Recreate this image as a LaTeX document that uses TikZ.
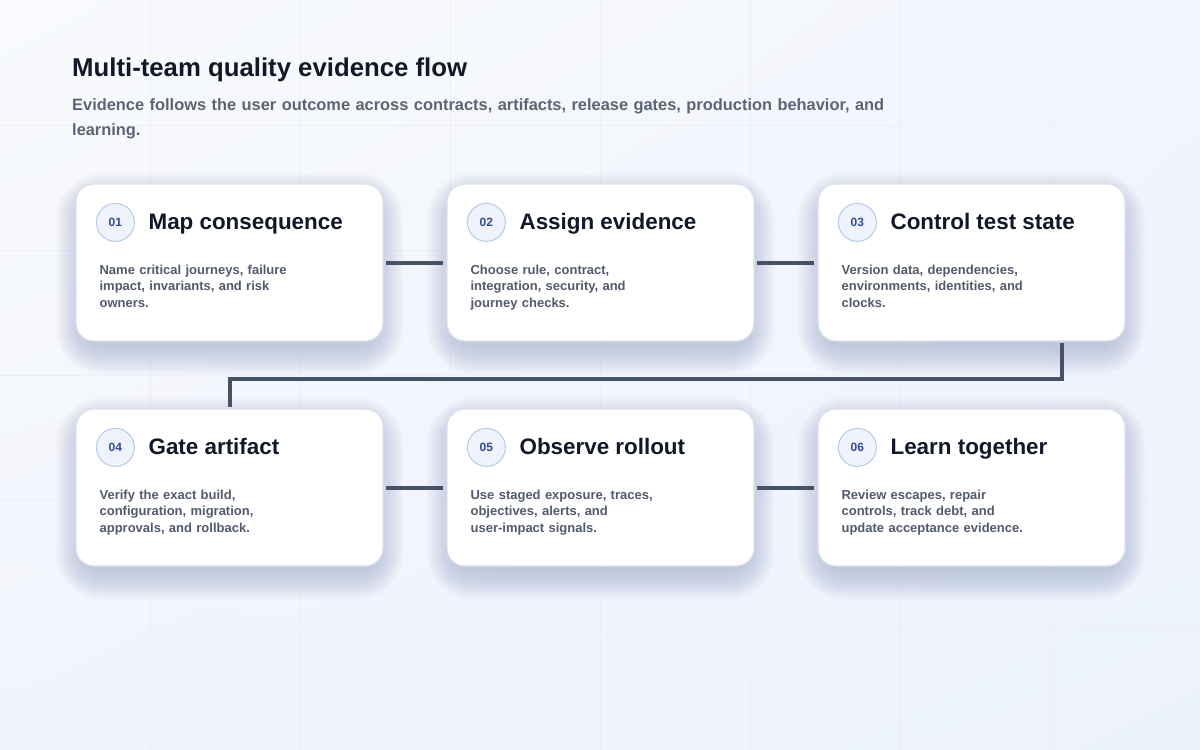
\documentclass[tikz,border=0pt]{standalone}
\usepackage{fontspec}
\setmainfont{Liberation Sans}
\usetikzlibrary{calc,shadings}
\definecolor{bgA}{HTML}{F8FAFD}
\definecolor{bgB}{HTML}{F2F5FC}
\definecolor{bgC}{HTML}{F1F4FB}
\definecolor{bgD}{HTML}{ECF2FC}
\definecolor{gridc}{HTML}{E7ECF3}
\definecolor{headc}{HTML}{111827}
\definecolor{subc}{HTML}{5B6576}
\definecolor{cardline}{HTML}{DCE2EC}
\definecolor{descc}{HTML}{525B6B}
\definecolor{numc}{HTML}{2D4C9C}
\definecolor{numfill}{HTML}{EEF3FD}
\definecolor{numline}{HTML}{B9C9E6}
\definecolor{connc}{HTML}{465366}
\definecolor{shadc}{HTML}{8C9AB6}
\tikzset{
  card/.style={draw=cardline, line width=1.2pt, fill=white, rounded corners=18pt,
    minimum width=307pt, minimum height=157pt, inner sep=0pt},
  shadowlayer/.style={fill=shadc, fill opacity=0.014, draw=none},
  numbadge/.style={circle, draw=numline, line width=1pt, fill=numfill, minimum size=38pt,
    inner sep=0pt, font=\fontsize{12}{14}\selectfont\bfseries, text=numc},
  ttl/.style={anchor=base west, inner sep=0pt, font=\fontsize{22.4}{26}\selectfont\bfseries, text=headc},
  desc/.style={anchor=base west, inner sep=0pt, text width=260pt, align=left,
    font=\fontsize{13}{16.5}\selectfont\bfseries, text=descc},
  conn/.style={draw=connc, line width=4pt, line join=miter},
}
\begin{document}
\begin{tikzpicture}[x=1pt,y=-1pt]
\useasboundingbox (0,0) rectangle (1200,750);
\shade[upper left=bgA, upper right=bgB, lower left=bgC, lower right=bgD] (0,0) rectangle (1200,750);
\foreach \gx in {150,300,...,1050} \draw[gridc, line width=0.8pt, opacity=0.6] (\gx,0) -- (\gx,750);
\foreach \gy in {125,250,...,625} \draw[gridc, line width=0.8pt, opacity=0.6] (0,\gy) -- (1200,\gy);

\node[anchor=base west, inner sep=0pt, font=\fontsize{25.75}{30}\selectfont\bfseries, text=headc] (head) at (72,76.7) {Multi-team quality evidence flow};
\node[anchor=base west, inner sep=0pt, text width=900pt, align=left, font=\fontsize{16.4}{25}\selectfont\bfseries, text=subc] (sub) at (72,110) {Evidence follows the user outcome across contracts, artifacts, release gates, production behavior, and\\learning.};

\foreach \id/\cx/\cy/\num/\ttext/\dtext in {
  c1/229.5/262.5/01/Map consequence/{Name critical journeys, failure\\impact, invariants, and risk\\owners.},
  c2/600.5/262.5/02/Assign evidence/{Choose rule, contract,\\integration, security, and\\journey checks.},
  c3/971.5/262.5/03/Control test state/{Version data, dependencies,\\environments, identities, and\\clocks.},
  c4/229.5/487.5/04/Gate artifact/{Verify the exact build,\\configuration, migration,\\approvals, and rollback.},
  c5/600.5/487.5/05/Observe rollout/{Use staged exposure, traces,\\objectives, alerts, and\\user-impact signals.},
  c6/971.5/487.5/06/Learn together/{Review escapes, repair\\controls, track debt, and\\update acceptance evidence.}}
{
  \foreach \k in {0,...,28}
    \fill[shadowlayer, rounded corners={(18+\k)*1pt}] (\cx-146-\k,\cy-62-\k) rectangle (\cx+146+\k,\cy+84+\k);
  \node[card] (\id) at (\cx,\cy) {};
  \node[numbadge] (\id n) at ([shift={(40,39)}]\id.north west) {\num};
  \node[ttl] (\id t) at ([shift={(73,46.3)}]\id.north west) {\ttext};
  \node[desc] (\id d) at ([shift={(24,91)}]\id.north west) {\dtext};
}

\draw[conn] ([xshift=2pt]c1.east) -- ([xshift=-3pt]c2.west);
\draw[conn] ([xshift=2pt]c2.east) -- ([xshift=-3pt]c3.west);
\draw[conn] ([xshift=2pt]c4.east) -- ([xshift=-3pt]c5.west);
\draw[conn] ([xshift=2pt]c5.east) -- ([xshift=-3pt]c6.west);
\draw[conn] ([xshift=90.5pt,yshift=-1pt]c3.south) |- ([yshift=29pt]c4.north) -- ([yshift=1pt]c4.north);
\end{tikzpicture}
\end{document}
